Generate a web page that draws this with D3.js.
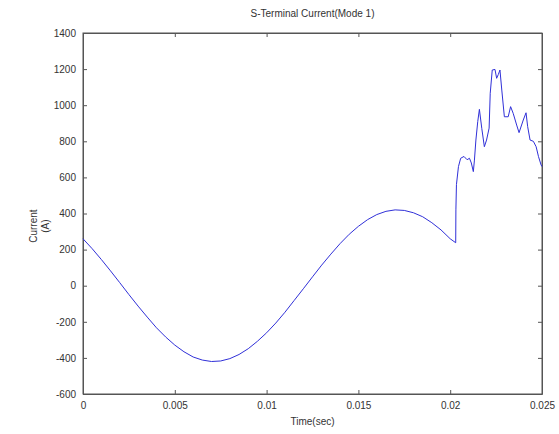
<!DOCTYPE html>
<html>
<head>
<meta charset="utf-8">
<script src="https://cdn.jsdelivr.net/npm/d3@7"></script>
<style>
  body { margin: 0; background: #fff; }
  svg { display: block; font-family: "Liberation Sans", Arial, sans-serif; }
</style>
</head>
<body>
<svg id="chart" width="559" height="434"></svg>
<script>
// values
const preFaultTime = [0, 0.0005, 0.001, 0.0015, 0.002, 0.0025, 0.003, 0.0035, 0.004, 0.0045,
  0.005, 0.0055, 0.006, 0.0065, 0.007, 0.0075, 0.008, 0.0085, 0.009, 0.0095,
  0.010, 0.0105, 0.011, 0.0115, 0.012, 0.0125, 0.013, 0.0135, 0.014, 0.0145,
  0.015, 0.0155, 0.016, 0.0165, 0.017, 0.0175, 0.018, 0.0185, 0.019, 0.0195,
  0.020, 0.0203];
const preFaultCurrent = [260, 205, 145, 82, 17, -49, -113, -174, -233, -284,
  -329, -366, -395, -412, -420, -417, -404, -381, -349, -308,
  -261, -207, -147, -82, -17, 49, 114, 175, 233, 285,
  329, 366, 394, 412, 420, 417, 404, 382, 349, 309,
  260, 238];
const faultTime = [0.02031, 0.02034, 0.02045, 0.02057, 0.02075, 0.02092, 0.02105, 0.02115, 0.02126,
  0.02132, 0.02140, 0.02150, 0.02159, 0.02172, 0.02186, 0.02198, 0.02212, 0.02218, 0.02229,
  0.02244, 0.02253, 0.02262, 0.02271, 0.02281, 0.02295, 0.02316, 0.02329, 0.02343, 0.02362,
  0.02375, 0.02398, 0.02413, 0.02422, 0.02435, 0.02453, 0.02468, 0.02481, 0.02495, 0.025];
const faultCurrent = [420, 560, 660, 706, 716, 698, 706, 680, 632,
  696, 807, 909, 977, 872, 770, 807, 873, 1066, 1195,
  1198, 1149, 1170, 1195, 1084, 936, 936, 992, 955, 890,
  848, 918, 958, 881, 807, 800, 770, 715, 669, 660];

const timeTicks = [0, 0.005, 0.01, 0.015, 0.02, 0.025];
const currentTicks = [-600, -400, -200, 0, 200, 400, 600, 800, 1000, 1200, 1400];

const time = preFaultTime.concat(faultTime);
const current = preFaultCurrent.concat(faultCurrent);
const points = time.map((t, i) => ({ t, v: current[i] }));

const svg = d3.select('#chart');
const margin = { left: 83, right: 17, top: 33, bottom: 40 };
const W = 559, H = 434;

const x = d3.scaleLinear().domain([0, 0.025]).range([margin.left, W - margin.right]);
const y = d3.scaleLinear().domain([-600, 1400]).range([H - margin.bottom, margin.top]);

const axisColor = '#555';
const textColor = '#333';

// plot box
svg.append('rect')
  .attr('x', x(0)).attr('y', y(1400))
  .attr('width', x(0.025) - x(0)).attr('height', y(-600) - y(1400))
  .attr('fill', '#fff').attr('stroke', axisColor).attr('stroke-width', 1);

// axes (ticks inside, plain hyphen minus like the original)
const fmtT = d => d === 0 ? '0' : String(d);
const xAxis = svg.append('g').attr('transform', `translate(0,${y(-600)})`)
  .call(d3.axisBottom(x).tickValues(timeTicks).tickFormat(fmtT).tickSizeInner(-4).tickSizeOuter(0).tickPadding(8));
const xTop = svg.append('g').attr('transform', `translate(0,${y(1400)})`)
  .call(d3.axisTop(x).tickValues(timeTicks).tickFormat('').tickSizeInner(-4).tickSizeOuter(0));
const yAxis = svg.append('g').attr('transform', `translate(${x(0)},0)`)
  .call(d3.axisLeft(y).tickValues(currentTicks).tickFormat(d => String(d)).tickSizeInner(-4).tickSizeOuter(0).tickPadding(7));
const yRight = svg.append('g').attr('transform', `translate(${x(0.025)},0)`)
  .call(d3.axisRight(y).tickValues(currentTicks).tickFormat('').tickSizeInner(-4).tickSizeOuter(0));

[xAxis, xTop, yAxis, yRight].forEach(g => {
  g.selectAll('.domain').attr('stroke', axisColor);
  g.selectAll('.tick line').attr('stroke', axisColor);
  g.selectAll('text').attr('fill', textColor).attr('font-size', 10);
});

// the current trace
svg.append('path')
  .datum(points)
  .attr('fill', 'none')
  .attr('stroke', '#3030d8')
  .attr('stroke-width', 1)
  .attr('stroke-linejoin', 'round')
  .attr('d', d3.line().x(d => x(d.t)).y(d => y(d.v)));

// labels
svg.append('text')
  .attr('x', (x(0) + x(0.025)) / 2).attr('y', 17)
  .attr('text-anchor', 'middle').attr('font-size', 10).attr('fill', textColor)
  .text('S-Terminal Current(Mode 1)');

svg.append('text')
  .attr('x', (x(0) + x(0.025)) / 2).attr('y', 425)
  .attr('text-anchor', 'middle').attr('font-size', 10).attr('fill', textColor)
  .text('Time(sec)');

const yl = svg.append('text')
  .attr('transform', `translate(37,${y(330)}) rotate(-90)`)
  .attr('text-anchor', 'middle').attr('font-size', 10).attr('fill', textColor);
yl.append('tspan').attr('x', 0).attr('dy', 0).text('Current');
yl.append('tspan').attr('x', 0).attr('dy', 12).text('(A)');
</script>
</body>
</html>
